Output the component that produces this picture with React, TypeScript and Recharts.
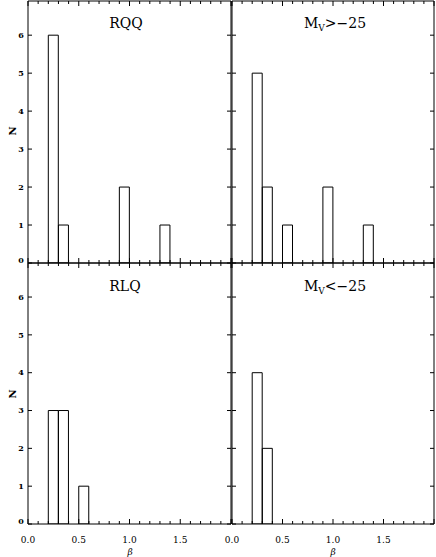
import React from "react";
import { BarChart, Bar, XAxis, YAxis } from "recharts";

// histogram bins of beta, width 0.1, from 0.0 to 2.0
const binStarts = [0.0, 0.1, 0.2, 0.3, 0.4, 0.5, 0.6, 0.7, 0.8, 0.9, 1.0, 1.1, 1.2, 1.3, 1.4, 1.5, 1.6, 1.7, 1.8, 1.9];

const rqqCounts = [0, 0, 6, 1, 0, 0, 0, 0, 0, 2, 0, 0, 0, 1, 0, 0, 0, 0, 0, 0];
const mvFaintCounts = [0, 0, 5, 2, 0, 1, 0, 0, 0, 2, 0, 0, 0, 1, 0, 0, 0, 0, 0, 0];
const rlqCounts = [0, 0, 3, 3, 0, 1, 0, 0, 0, 0, 0, 0, 0, 0, 0, 0, 0, 0, 0, 0];
const mvBrightCounts = [0, 0, 4, 2, 0, 0, 0, 0, 0, 0, 0, 0, 0, 0, 0, 0, 0, 0, 0, 0];

const xAllTicks = [0.0, 0.1, 0.2, 0.3, 0.4, 0.5, 0.6, 0.7, 0.8, 0.9, 1.0, 1.1, 1.2, 1.3, 1.4, 1.5, 1.6, 1.7, 1.8, 1.9, 2.0];
const xMajorTicks = [0.0, 0.5, 1.0, 1.5, 2.0];
const xLabelTicks = [0.0, 0.5, 1.0, 1.5];
const yTicks = [0, 1, 2, 3, 4, 5, 6];
const yMax = 6.9;

const FONT = "'DejaVu Serif', 'Liberation Serif', serif";

function XTick(props: any) {
  const { x, y, payload, dir, showLabel } = props;
  const v = payload.value;
  const len = xMajorTicks.includes(v) ? 5 : 3;
  return (
    <g>
      <line x1={x} x2={x} y1={y} y2={y + dir * len} stroke="#000" strokeWidth={1} />
      {showLabel && xLabelTicks.includes(v) && (
        <text x={x} y={y + 19} textAnchor="middle" fontSize={9} fontFamily={FONT} fill="#000">
          {v.toFixed(1)}
        </text>
      )}
    </g>
  );
}

function YTick(props: any) {
  const { x, y, payload, dir, showLabel } = props;
  // the zero label sits a little above its tick, as in the original
  const shift = payload.value === 0 ? -2.5 : 0;
  return (
    <g>
      <line x1={x} x2={x + dir * 4} y1={y} y2={y} stroke="#000" strokeWidth={1} />
      {showLabel && (
        <text x={x - 7} y={y + shift} dy="0.35em" textAnchor="middle" fontSize={8} fontWeight="bold" fontFamily={FONT} fill="#000">
          {payload.value}
        </text>
      )}
    </g>
  );
}

type PanelProps = {
  counts: number[];
  left: number;
  top: number;
  plotW: number;
  plotH: number;
  leftW: number;
  bottomH: number;
  yLabels: boolean;
  xLabels: boolean;
};

function Panel({ counts, left, top, plotW, plotH, leftW, bottomH, yLabels, xLabels }: PanelProps) {
  const data = binStarts.map((b, i) => ({ bin: b, count: counts[i] }));
  const width = leftW + plotW + 2;
  const height = 1 + plotH + bottomH;
  return (
    <div style={{ position: "absolute", left, top, width, height }}>
      <BarChart
        width={width}
        height={height}
        data={data}
        margin={{ top: 0, right: 0, bottom: 0, left: 0 }}
        barCategoryGap={0}
        barGap={0}
      >
        <XAxis xAxisId="cat" dataKey="bin" hide />
        <XAxis
          xAxisId="bottom"
          type="number"
          dataKey="bin"
          domain={[0, 2]}
          allowDataOverflow
          ticks={xAllTicks}
          interval={0}
          height={bottomH}
          tickLine={false}
          tickSize={0}
          tickMargin={0}
          axisLine={{ stroke: "#000" }}
          tick={(p: any) => <XTick {...p} dir={-1} showLabel={xLabels} />}
        />
        <XAxis
          xAxisId="top"
          orientation="top"
          type="number"
          dataKey="bin"
          domain={[0, 2]}
          allowDataOverflow
          ticks={xAllTicks}
          interval={0}
          height={1}
          tickLine={false}
          tickSize={0}
          tickMargin={0}
          axisLine={{ stroke: "#000" }}
          tick={(p: any) => <XTick {...p} dir={1} showLabel={false} />}
        />
        <YAxis
          yAxisId="left"
          domain={[0, yMax]}
          allowDataOverflow
          ticks={yTicks}
          interval={0}
          width={leftW}
          tickLine={false}
          tickSize={0}
          tickMargin={0}
          axisLine={{ stroke: "#000" }}
          tick={(p: any) => <YTick {...p} dir={1} showLabel={yLabels} />}
        />
        <YAxis
          yAxisId="right"
          orientation="right"
          domain={[0, yMax]}
          allowDataOverflow
          ticks={yTicks}
          interval={0}
          width={2}
          tickLine={false}
          tickSize={0}
          tickMargin={0}
          axisLine={{ stroke: "#000" }}
          tick={(p: any) => <YTick {...p} dir={-1} showLabel={false} />}
        />
        <Bar
          dataKey="count"
          xAxisId="cat"
          yAxisId="left"
          fill="none"
          stroke="#000"
          strokeWidth={1}
          isAnimationActive={false}
        />
      </BarChart>
    </div>
  );
}

export default function App() {
  return (
    <div
      style={{
        position: "absolute",
        left: 0,
        top: 0,
        width: 436,
        height: 557,
        background: "#fff",
        overflow: "hidden",
      }}
    >
      <style>{`.recharts-surface { overflow: visible; }`}</style>
      <Panel counts={rqqCounts} left={0} top={0} plotW={203} plotH={262} leftW={28} bottomH={2} yLabels xLabels={false} />
      <Panel counts={mvFaintCounts} left={231} top={0} plotW={202} plotH={262} leftW={1} bottomH={2} yLabels={false} xLabels={false} />
      <Panel counts={rlqCounts} left={0} top={262} plotW={203} plotH={261} leftW={28} bottomH={33} yLabels xLabels />
      <Panel counts={mvBrightCounts} left={231} top={262} plotW={202} plotH={261} leftW={1} bottomH={33} yLabels={false} xLabels />
      <svg
        width={436}
        height={557}
        style={{ position: "absolute", left: 0, top: 0, pointerEvents: "none" }}
      >
        <g fontFamily={FONT} fill="#000">
          <text x={126} y={27.5} textAnchor="middle" fontSize={14}>RQQ</text>
          <text x={335} y={27.5} textAnchor="middle" fontSize={14}>
            M<tspan fontSize={9} dy={3}>V</tspan>
            <tspan dy={-3}>&gt;−25</tspan>
          </text>
          <text x={125} y={290.5} textAnchor="middle" fontSize={14}>RLQ</text>
          <text x={335} y={290.5} textAnchor="middle" fontSize={14}>
            M<tspan fontSize={9} dy={3}>V</tspan>
            <tspan dy={-3}>&lt;−25</tspan>
          </text>
          <text x={12} y={131} textAnchor="middle" dy="0.35em" fontSize={10} fontWeight="bold" transform="rotate(-90 12 131)">N</text>
          <text x={12} y={394} textAnchor="middle" dy="0.35em" fontSize={10} fontWeight="bold" transform="rotate(-90 12 394)">N</text>
          <text x={130} y={555} textAnchor="middle" fontSize={9} fontStyle="italic">β</text>
          <text x={333} y={555} textAnchor="middle" fontSize={9} fontStyle="italic">β</text>
        </g>
      </svg>
    </div>
  );
}
